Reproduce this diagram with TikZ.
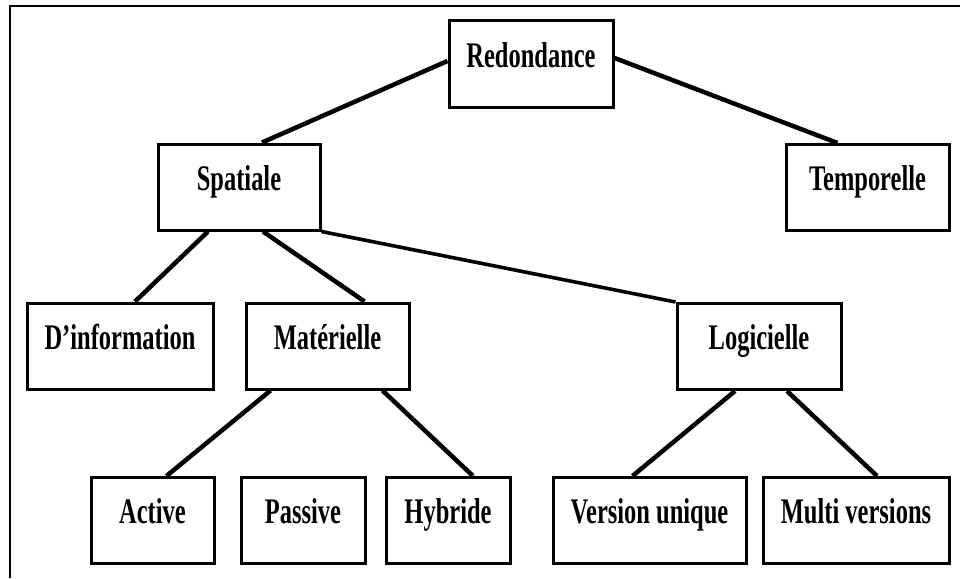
\documentclass[tikz,border=0pt]{standalone}
\usepackage{fontspec}
\setmainfont{Liberation Serif}[FakeStretch=0.68]
\begin{document}
\begin{tikzpicture}[x=1pt,y=-1pt,
  box/.style={draw,line width=3pt,inner sep=0pt,minimum height=86pt,
    text height=25pt,text depth=19pt,font=\fontsize{36}{40}\selectfont\bfseries},
  link/.style={line width=4.5pt}]
\useasboundingbox (0,0) rectangle (960,578);
\draw[line width=2.2pt] (10,578) -- (10,6) -- (960,6);
% nodes
\node[box,minimum width=164pt] (red) at (531,64) {Redondance};
\node[box,minimum width=162pt] (spa) at (239,187) {Spatiale};
\node[box,minimum width=163pt] (tem) at (867.5,187.5) {Temporelle};
\node[box,minimum width=186pt] (inf) at (120,346) {D’information};
\node[box,minimum width=163pt] (mat) at (327.5,346) {Matérielle};
\node[box,minimum width=164pt] (log) at (759,346.5) {Logicielle};
\node[box,minimum width=123pt] (act) at (152.5,520.5) {Active};
\node[box,minimum width=124pt] (pas) at (303,520.5) {Passive};
\node[box,minimum width=124pt] (hyb) at (448,520.5) {Hybride};
\node[box,minimum width=193pt] (ver) at (649.5,520.5) {Version unique};
\node[box,minimum width=186pt] (mul) at (856,520.5) {Multi versions};
% connectors
\draw[link] ([yshift=3pt]red.west) -- ([xshift=23pt]spa.north);
\draw[link] ([yshift=6pt]red.east) -- ([xshift=-30pt]tem.north);
\draw[link] ([xshift=-31pt]spa.south) -- ([xshift=15pt]inf.north);
\draw[link] ([xshift=24pt]spa.south) -- ([xshift=37pt]mat.north);
\draw[link,line width=3.6pt] (spa.south east) -- (log.north west);
\draw[link] ([xshift=-57pt]mat.south) -- ([xshift=14pt]act.north);
\draw[link] ([xshift=55pt]mat.south) -- ([xshift=25pt]hyb.north);
\draw[link] ([xshift=-24pt]log.south) -- ([xshift=-17pt]ver.north);
\draw[link] ([xshift=28pt]log.south) -- ([xshift=21pt]mul.north);
\end{tikzpicture}
\end{document}
